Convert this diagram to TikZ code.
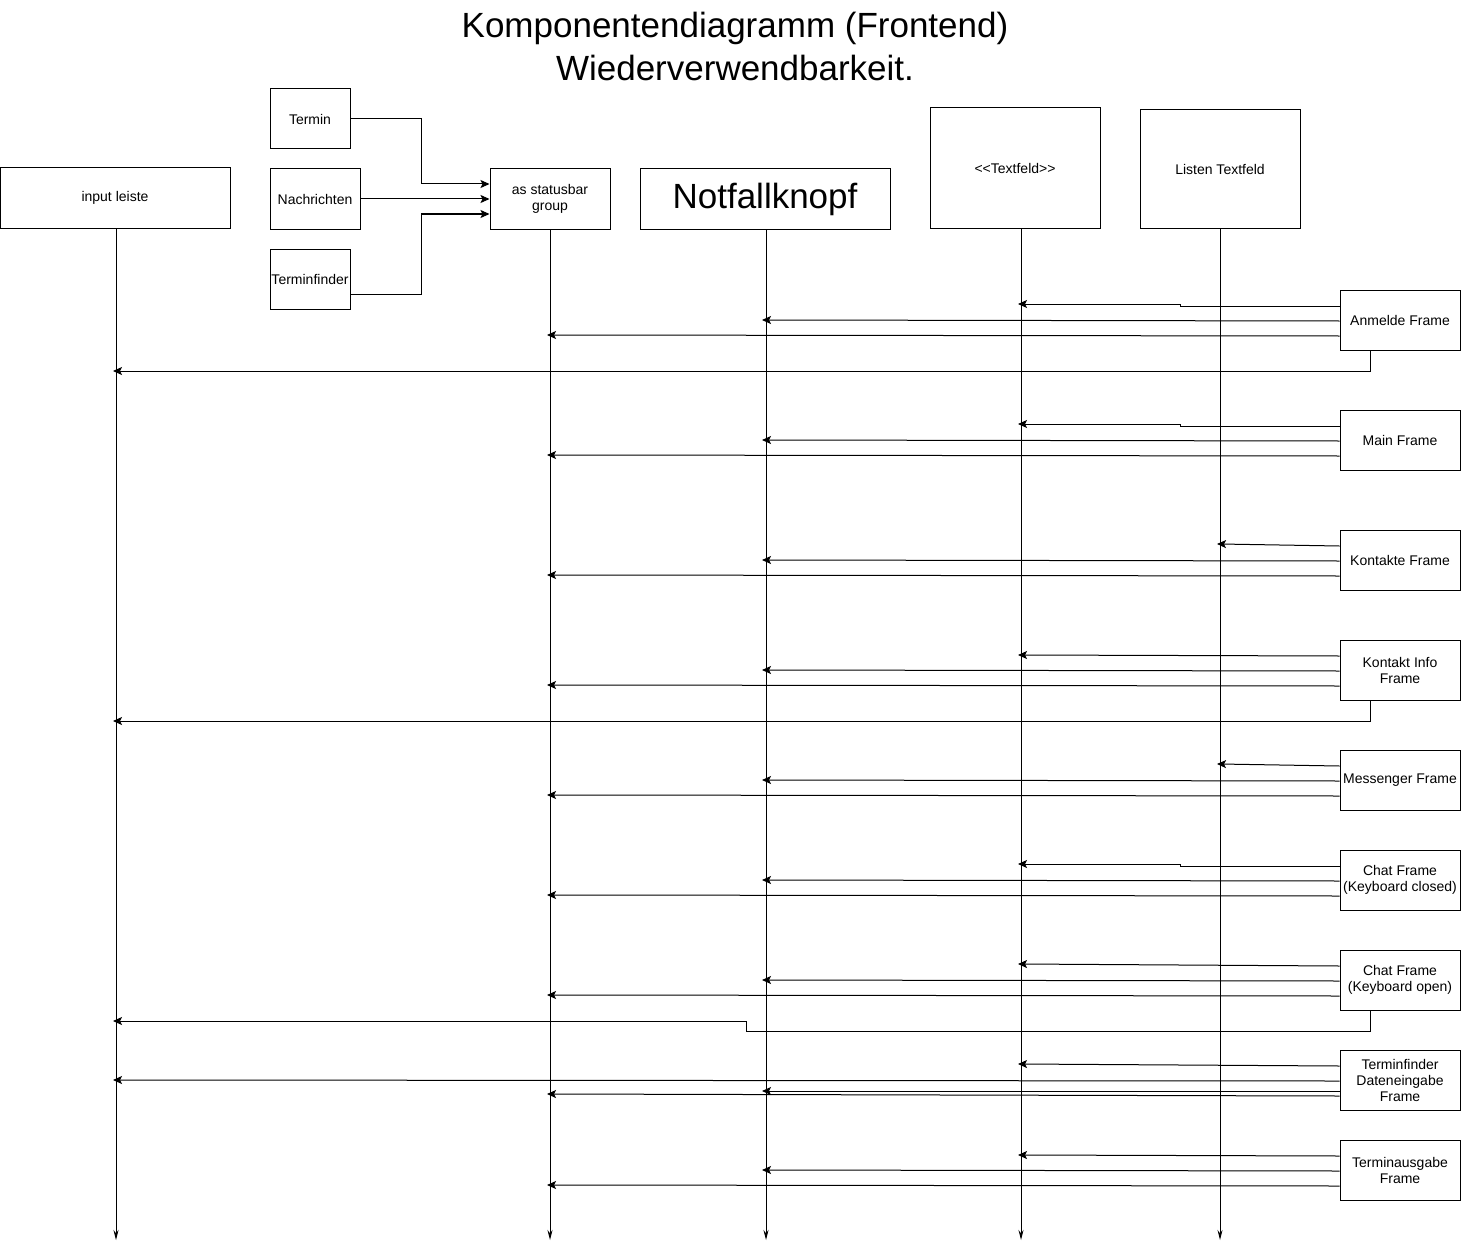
\documentclass[tikz,border=0pt]{standalone}
\usepackage{fontspec}
\setmainfont{Liberation Sans}
\usetikzlibrary{arrows.meta}

\begin{document}
\begin{tikzpicture}[%
        x = 1pt, y = -1pt,
        font = \fontsize{14}{16}\selectfont,
        line width = 1pt,
        box/.style = {draw, align = center, inner sep = 0pt},
        life/.style = {-{Stealth[length = 10pt, width = 5pt]}},
        msg/.style = {-{Stealth[length = 9pt, width = 8pt, inset = 2pt]}, shorten > = -3pt}
    ]

        % Page size.
        \useasboundingbox (0, 0) rectangle (1461, 1252);

        % Title.
        \node[align = center, font = \fontsize{35}{43}\selectfont] (title) at (735, 46)
            {Komponentendiagramm (Frontend)\\Wiederverwendbarkeit.};

        % Components on top.
        \node[box, minimum width = 230pt, minimum height = 60pt] (inp) at (115, 198) {input leiste};
        \node[box, minimum width = 80pt, minimum height = 60pt] (termin) at (310, 119) {Termin};
        \node[box, minimum width = 90pt, minimum height = 60pt] (nachr) at (315, 199) {Nachrichten};
        \node[box, minimum width = 80pt, minimum height = 60pt] (tfind) at (310, 279) {Terminfinder};
        \node[box, minimum width = 120pt, minimum height = 60pt] (sbar) at (550, 199) {as statusbar\\group};
        \node[box, minimum width = 250pt, minimum height = 60pt,
            font = \fontsize{35}{40}\selectfont] (notf) at (765, 199) {Notfallknopf};
        \node[box, minimum width = 170pt, minimum height = 120pt] (txt) at (1015, 168) {{<}{<}Textfeld{>}{>}};
        \node[box, minimum width = 160pt, minimum height = 118pt] (ltxt) at (1220, 169) {Listen Textfeld};

        % Lifelines.
        \coordinate (inpL) at ([xshift = 1pt]inp.south);
        \coordinate (txtL) at ([xshift = 6pt]txt.south);
        \draw[life] (inpL) -- (inpL |- 0, 1240);
        \draw[life] (sbar.south) -- (sbar.south |- 0, 1240);
        \draw[life] ([xshift = 1pt]notf.south) -- ([xshift = 1pt]notf.south |- 0, 1240);
        \draw[life] (txtL) -- (txtL |- 0, 1240);
        \draw[life] (ltxt.south) -- (ltxt.south |- 0, 1240);

        % Parts of the statusbar group.
        \draw[msg, shorten > = 0pt] (termin.east) -| (421, 184) -- ([yshift = 15pt]sbar.west);
        \draw[msg, shorten > = 0pt] (nachr.east) -- (sbar.west);
        \draw[msg, shorten > = 0pt] ([yshift = -15pt]tfind.east) -| (421, 214) -- ([yshift = -15pt]sbar.west);

        % Frames on the right.
        \foreach \name/\y/\label in {%
                anm/320/Anmelde Frame,
                main/440/Main Frame,
                kont/560/Kontakte Frame,
                kinfo/670/{Kontakt Info\\Frame},
                mess/780/Messenger Frame,
                chatc/880/{Chat Frame\\(Keyboard closed)},
                chato/980/{Chat Frame\\(Keyboard open)},
                tdat/1080/{Terminfinder\\Dateneingabe\\Frame},
                taus/1170/{Terminausgabe\\Frame}}{
            \node[box, minimum width = 120pt, minimum height = 60pt] (\name) at (1400, \y) {\label};
        }

        % Anmelde Frame.
        \draw[msg] ([yshift = 14pt]anm.west) -- (1180, 306) -- (1180, 304) -- (txtL |- 0, 304);
        \draw[msg] ([yshift = -1pt]anm.west) -- (notf.south |- 0, 320);
        \draw[msg] ([yshift = -16pt]anm.west) -- (sbar.south |- 0, 335);
        \draw[msg] ([xshift = -30pt]anm.south) |- (inpL |- 0, 371);

        % Main Frame.
        \draw[msg] ([yshift = 14pt]main.west) -- (1180, 426) -- (1180, 424) -- (txtL |- 0, 424);
        \draw[msg] ([yshift = -1pt]main.west) -- (notf.south |- 0, 440);
        \draw[msg] ([yshift = -16pt]main.west) -- (sbar.south |- 0, 455);

        % Kontakte Frame.
        \draw[msg] ([yshift = 14pt]kont.west) -- (ltxt.south |- 0, 544);
        \draw[msg] ([yshift = -1pt]kont.west) -- (notf.south |- 0, 560);
        \draw[msg] ([yshift = -16pt]kont.west) -- (sbar.south |- 0, 575);

        % Kontakt Info Frame.
        \draw[msg] ([yshift = 14pt]kinfo.west) -- (txtL |- 0, 655);
        \draw[msg] ([yshift = -1pt]kinfo.west) -- (notf.south |- 0, 670);
        \draw[msg] ([yshift = -16pt]kinfo.west) -- (sbar.south |- 0, 685);
        \draw[msg] ([xshift = -30pt]kinfo.south) |- (inpL |- 0, 721);

        % Messenger Frame.
        \draw[msg] ([yshift = 14pt]mess.west) -- (ltxt.south |- 0, 764);
        \draw[msg] ([yshift = -1pt]mess.west) -- (notf.south |- 0, 780);
        \draw[msg] ([yshift = -16pt]mess.west) -- (sbar.south |- 0, 795);

        % Chat Frame, keyboard closed.
        \draw[msg] ([yshift = 14pt]chatc.west) -- (1180, 866) -- (1180, 864) -- (txtL |- 0, 864);
        \draw[msg] ([yshift = -1pt]chatc.west) -- (notf.south |- 0, 880);
        \draw[msg] ([yshift = -16pt]chatc.west) -- (sbar.south |- 0, 895);

        % Chat Frame, keyboard open.
        \draw[msg] ([yshift = 14pt]chato.west) -- (txtL |- 0, 964);
        \draw[msg] ([yshift = -1pt]chato.west) -- (notf.south |- 0, 980);
        \draw[msg] ([yshift = -16pt]chato.west) -- (sbar.south |- 0, 995);
        \draw[msg] ([xshift = -30pt]chato.south) |- (746, 1031) |- (inpL |- 0, 1021);

        % Terminfinder Dateneingabe Frame.
        \draw[msg] ([yshift = 14pt]tdat.west) -- (txtL |- 0, 1064);
        \draw[msg] ([yshift = -1pt]tdat.west) -- (inpL |- 0, 1080);
        \draw[msg] ([yshift = -11pt]tdat.west) -- (notf.south |- 0, 1091);
        \draw[msg] ([yshift = -16pt]tdat.west) -- (sbar.south |- 0, 1094);

        % Terminausgabe Frame.
        \draw[msg] ([yshift = 14pt]taus.west) -- (txtL |- 0, 1155);
        \draw[msg] ([yshift = -1pt]taus.west) -- (notf.south |- 0, 1170);
        \draw[msg] ([yshift = -16pt]taus.west) -- (sbar.south |- 0, 1185);
    \end{tikzpicture}
\end{document}
